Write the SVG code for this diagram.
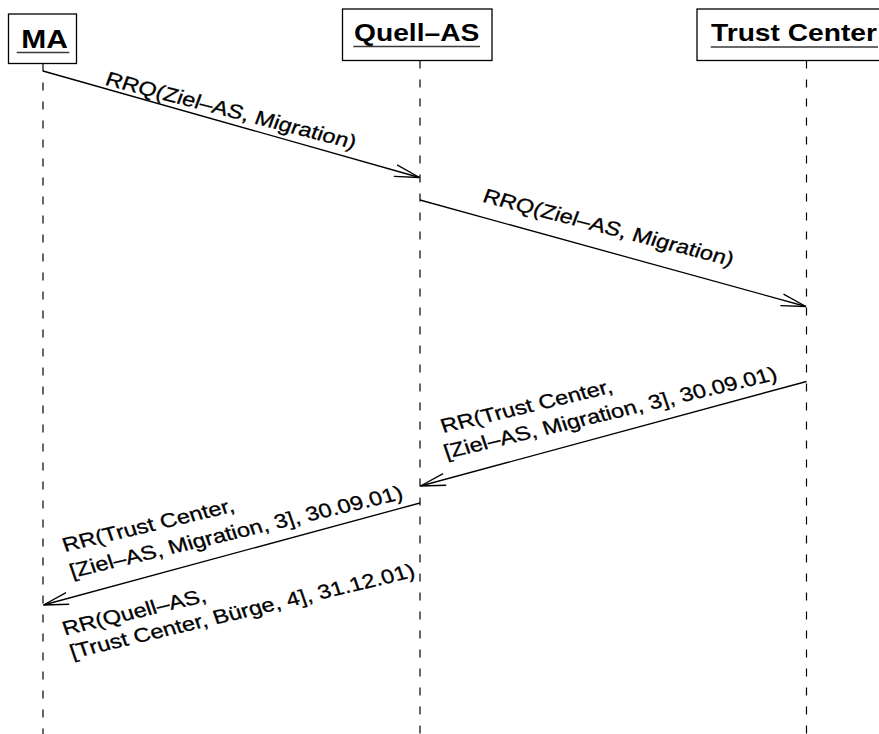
<svg xmlns="http://www.w3.org/2000/svg" width="879" height="734" viewBox="0 0 879 734">
  <style>
    .box { fill: #ffffff; stroke: #000000; stroke-width: 1.3; }
    .title { font-family: "Liberation Sans", Arial, sans-serif; font-weight: bold; fill: #000000; text-anchor: middle; }
    .uline { stroke: #3a3a3a; stroke-width: 1.6; }
    .life { stroke: #000000; stroke-width: 1.2; stroke-dasharray: 8 11; fill: none; }
    .msg { stroke: #000000; stroke-width: 1.3; fill: none; marker-end: url(#open); }
    .lbl { font-family: "Liberation Sans", Arial, sans-serif; font-size: 19.7px; fill: #000000; stroke: #000000; stroke-width: 0.3; }
  </style>
  <defs>
    <marker id="open" markerUnits="userSpaceOnUse" orient="auto" refX="0" refY="0" markerWidth="30" markerHeight="20" overflow="visible">
      <path d="M-25,-6 L0,0 L-25,6" fill="none" stroke="#000000" stroke-width="1.3"/>
    </marker>
  </defs>
  <rect width="879" height="734" fill="#ffffff"/>

  <!-- lifelines -->
  <g id="lifelines">
    <line class="life" x1="43" y1="63.5" x2="43" y2="734"/>
    <line class="life" x1="420" y1="60.5" x2="420" y2="734"/>
    <line class="life" x1="806.5" y1="60.5" x2="806.5" y2="734"/>
  </g>

  <!-- participants -->
  <g id="node-ma">
    <rect class="box" x="8.5" y="14" width="68" height="49.5"/>
    <text class="title" font-size="25" transform="translate(44.5 47.5) scale(1.2 1)">MA</text>
    <line class="uline" x1="16.7" y1="52.5" x2="69.3" y2="52.5"/>
  </g>
  <g id="node-quell-as">
    <rect class="box" x="342.5" y="9" width="149.5" height="51.5"/>
    <text class="title" font-size="23.5" transform="translate(416.7 40.5) scale(1.2 1)">Quell–AS</text>
    <line class="uline" x1="353.3" y1="46.5" x2="480" y2="46.5"/>
  </g>
  <g id="node-trust-center">
    <rect class="box" x="697" y="9" width="200" height="51.5"/>
    <text class="title" font-size="23.5" transform="translate(794 40.5) scale(1.2 1)">Trust Center</text>
    <line class="uline" x1="710.7" y1="47" x2="878" y2="47"/>
  </g>

  <!-- messages -->
  <g id="connectors">
    <line class="msg" x1="43" y1="71" x2="419.5" y2="177.5"/>
    <line class="msg" x1="420" y1="200" x2="806" y2="306.5"/>
    <line class="msg" x1="806.5" y1="381.5" x2="420.5" y2="486"/>
    <line class="msg" x1="420" y1="503" x2="43.5" y2="605"/>
  </g>

  <!-- message labels -->
  <g id="labels">
    <text class="lbl" transform="translate(104 84.5) scale(1.2 1) rotate(17.3)">RRQ(Ziel–AS, Migration)</text>
    <text class="lbl" transform="translate(481.5 201.5) scale(1.2 1) rotate(17.3)">RRQ(Ziel–AS, Migration)</text>
    <text class="lbl" transform="translate(443.3 433.1) scale(1.2 1) rotate(-16)">RR(Trust Center,</text>
    <text class="lbl" transform="translate(446.5 458.7) scale(1.2 1) rotate(-16)">[Ziel–AS, Migration, 3], 30.09.01)</text>
    <text class="lbl" transform="translate(65 552) scale(1.2 1) rotate(-16)">RR(Trust Center,</text>
    <text class="lbl" transform="translate(72.3 577.9) scale(1.2 1) rotate(-16)">[Ziel–AS, Migration, 3], 30.09.01)</text>
    <text class="lbl" transform="translate(65 635.4) scale(1.2 1) rotate(-16)">RR(Quell–AS,</text>
    <text class="lbl" transform="translate(72.5 658.7) scale(1.2 1) rotate(-16)">[Trust Center, Bürge, 4], 31.12.01)</text>
  </g>
</svg>
